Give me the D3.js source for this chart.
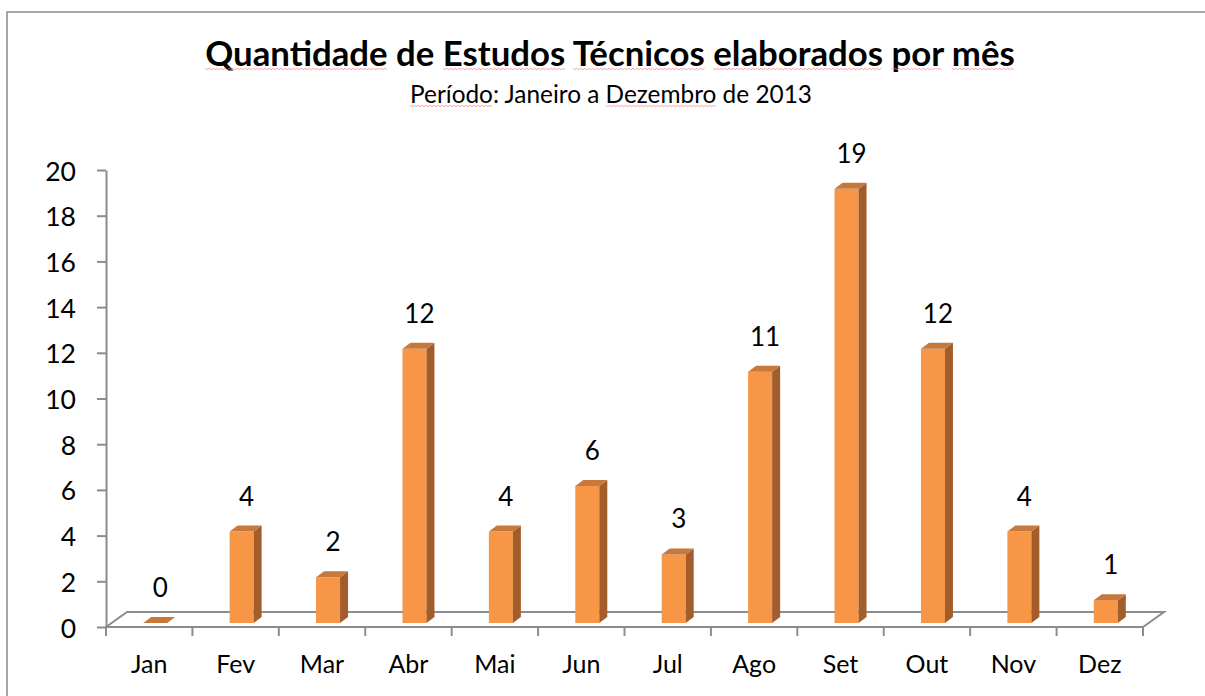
<!DOCTYPE html>
<html>
<head>
<meta charset="utf-8">
<script src="https://cdn.jsdelivr.net/npm/d3@7"></script>
<style>
  html, body { margin: 0; padding: 0; background: #fff; }
  svg { display: block; }
  text { font-family: Lato, "Open Sans", sans-serif; fill: #000; }
</style>
</head>
<body>
<svg id="chart" width="1205" height="696"></svg>
<script>
const categories = ["Jan", "Fev", "Mar", "Abr", "Mai", "Jun", "Jul", "Ago", "Set", "Out", "Nov", "Dez"];
const values = [0, 4, 2, 12, 4, 6, 3, 11, 19, 12, 4, 1];
const yTicks = [0, 2, 4, 6, 8, 10, 12, 14, 16, 18, 20];
const titleText = "Quantidade de Estudos Técnicos elaborados por mês";
const subtitleText = "Período: Janeiro a Dezembro de 2013";
const titleFlagged = ["Quantidade", "Estudos", "Técnicos", "elaborados", "por", "mês"];
const subtitleFlagged = ["Período", "Dezembro"];

(function () {
const svg = d3.select("#chart");

// outer frame
svg.append("rect").attr("x", 7).attr("y", 12).attr("width", 1400).attr("height", 900)
  .attr("fill", "none").attr("stroke", "#8a8a8a").attr("stroke-width", 1.5);

const x = d3.scaleBand().domain(categories).range([106, 1143]).paddingInner(0).paddingOuter(0);
const y = d3.scaleLinear().domain([0, 20]).range([627, 170]);
const bw = x.bandwidth();

const depthX = 21, depthY = -15;   // floor depth
const gridCol = "#8c8c8c";

// floor
const fl = y(0), xl = x.range()[0], xr = x.range()[1];
const floor = svg.append("g").attr("fill", "none").attr("stroke", gridCol).attr("stroke-width", 2);
floor.append("path").attr("d",
  `M${xl},${fl} L${xr},${fl} L${xr + depthX},${fl + depthY} L${xl + depthX},${fl + depthY} Z`);

// x ticks at band boundaries
const bounds = categories.map(c => x(c)).concat([xr]);
floor.selectAll("line.xt").data(bounds).join("line").attr("class", "xt")
  .attr("x1", d => d).attr("x2", d => d).attr("y1", fl).attr("y2", fl + 9);

// y axis
const yAxis = d3.axisLeft(y).tickValues(yTicks).tickSize(9).tickSizeOuter(0).tickPadding(21);
const gy = svg.append("g").attr("transform", `translate(${xl},0)`).call(yAxis);
gy.select(".domain").attr("stroke", gridCol).attr("stroke-width", 2);
gy.selectAll(".tick line").attr("stroke", gridCol).attr("stroke-width", 2);
gy.selectAll(".tick text").attr("font-size", 26.5).attr("font-family", "Lato").attr("fill", "#000").attr("dy", "0.38em");

// x labels
svg.append("g").selectAll("text").data(categories).join("text")
  .attr("x", d => x(d) + bw / 2).attr("y", 673).attr("text-anchor", "middle")
  .attr("font-size", 25).text(d => d);

// bars
const frontCol = "#F79646", sideCol = "#A35D2A", topCol = "#C6793D";
const barW = 24, bdx = 8, bdy = -6, shift = 6, lift = 4;
const data = categories.map((c, i) => ({ c, v: values[i] }));
const bars = svg.append("g");
data.forEach(d => {
  const x0 = x(d.c) + bw / 2 + shift - barW / 2, x1 = x0 + barW;
  const yb = y(0) - lift, yt = y(d.v) - lift;
  const g = bars.append("g");
  if (d.v > 0) {
    g.append("rect").attr("x", x0).attr("y", yt).attr("width", barW).attr("height", yb - yt).attr("fill", frontCol);
    g.append("path").attr("d", `M${x1},${yb} L${x1 + bdx},${yb + bdy} L${x1 + bdx},${yt + bdy} L${x1},${yt} Z`).attr("fill", sideCol);
  }
  g.append("path").attr("d", `M${x0},${yt} L${x1},${yt} L${x1 + bdx},${yt + bdy} L${x0 + bdx},${yt + bdy} Z`).attr("fill", topCol);
  d.lx = x0 + barW / 2 + 5; d.ly = yt - 26;
});

// data labels
svg.append("g").selectAll("text").data(data).join("text")
  .attr("x", d => d.lx).attr("y", d => d.ly).attr("text-anchor", "middle")
  .attr("font-size", 26).text(d => d.v);

// title & subtitle fitted to widths
function fitText(sel, target) {
  const len = sel.node().getComputedTextLength();
  const fs = parseFloat(sel.attr("font-size"));
  sel.attr("font-size", fs * target / len);
}
const title = svg.append("text").attr("x", 610).attr("y", 66).attr("text-anchor", "middle")
  .attr("font-size", 28).attr("font-weight", "bold").text(titleText);
fitText(title, 810);
const sub = svg.append("text").attr("x", 611).attr("y", 103).attr("text-anchor", "middle")
  .attr("font-size", 21).text(subtitleText);
fitText(sub, 402);

// spell-check squiggles
function squiggle(textSel, words, yLine) {
  const node = textSel.node();
  const str = textSel.text();
  let pos = 0;
  words.forEach(w => {
    const idx = str.indexOf(w, pos);
    if (idx < 0) return;
    pos = idx + w.length;
    const sx = node.getStartPositionOfChar(idx).x;
    const wl = node.getSubStringLength(idx, w.length);
    const pts = d3.range(0, Math.floor(wl / 2) + 1).map(k => [sx + k * 2, yLine + (k % 2 ? 0.6 : -0.6)]);
    svg.append("path").attr("d", d3.line()(pts)).attr("fill", "none")
      .attr("stroke", "#f28b8b").attr("stroke-width", 1).attr("opacity", 0.8);
  });
}
squiggle(title, titleFlagged, 69);
squiggle(sub, subtitleFlagged, 106);
})();
</script>
</body>
</html>
